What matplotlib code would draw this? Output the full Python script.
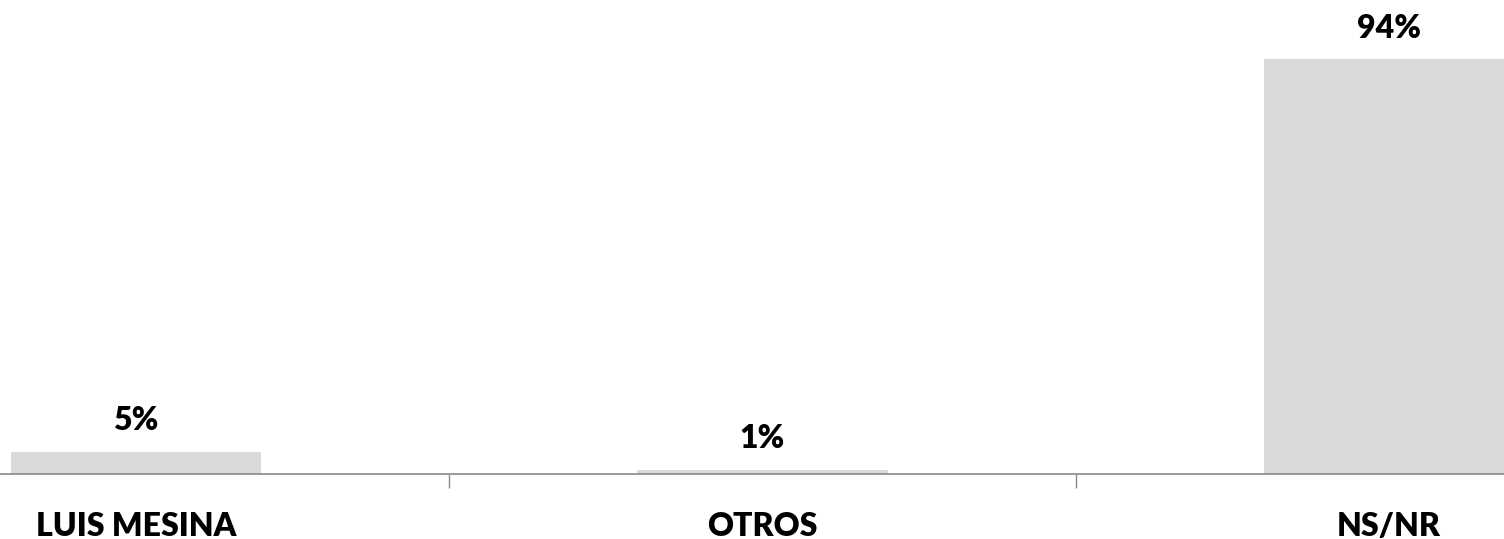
import matplotlib.pyplot as plt
from matplotlib.ticker import FixedLocator

plt.rcParams['font.family'] = ['Lato', 'DejaVu Sans']

categories = ['LUIS MESINA', 'OTROS', 'NS/NR']
values = [5, 1, 94]
labels = ['5%', '1%', '94%']

bar_color = '#D9D9D9'
axis_color = '#898989'

fig = plt.figure(figsize=(15.04, 5.39), dpi=100)
# axes runs past both sides of the figure so the outer bars sit at the edges
ax = fig.add_axes([-177 / 1504, 65 / 539, 1879 / 1504, 441 / 539])

x = range(len(categories))
bars = ax.bar(x, values, width=0.4, color=bar_color, zorder=2)

for b, txt in zip(bars, labels):
    ax.annotate(txt, (b.get_x() + b.get_width() / 2, b.get_height()),
                xytext=(0, 15.8), textcoords='offset points',
                ha='center', va='baseline', fontsize=23, fontweight='heavy',
                color='black')

ax.set_xlim(-0.5, len(categories) - 0.5)
ax.set_ylim(0, 100)

ax.set_xticks(list(x))
ax.set_xticklabels(categories, fontsize=23, fontweight='heavy')
ax.tick_params(axis='x', which='major', length=0, pad=27)
ax.xaxis.set_minor_locator(FixedLocator([0.5, 1.5]))
ax.tick_params(axis='x', which='minor', length=10, width=1, color=axis_color)
ax.set_yticks([])

for side in ['top', 'right', 'left']:
    ax.spines[side].set_visible(False)
ax.spines['bottom'].set_color(axis_color)
ax.spines['bottom'].set_linewidth(1.2)

fig.savefig('out.png', dpi=100)
